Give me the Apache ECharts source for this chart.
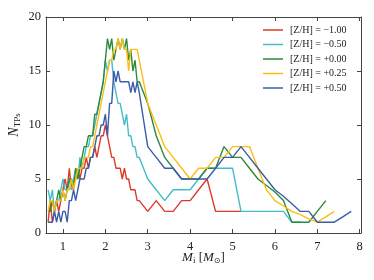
<!DOCTYPE html>
<html><head><meta charset="utf-8">
<script src="https://cdn.jsdelivr.net/npm/echarts@6/dist/echarts.min.js"></script>
<style>html,body{margin:0;padding:0;background:#fff}#c{width:374px;height:280px}</style>
</head><body><div id="c"></div>
<script>
// Initial masses (M_sun): fine grid then coarse grid
const massFine = [0.65,0.70,0.75,0.80,0.85,0.90,0.95,1.00,1.05,1.10,1.15,1.20,1.25,1.30,1.35,1.40,1.45,1.50,1.55,1.60,1.65,1.70,1.75,1.80,1.85,1.90,1.95,2.00,2.05,2.10,2.15,2.20,2.25,2.30,2.35,2.40,2.45,2.50,2.55,2.60,2.65,2.70,2.75,2.80];
const massCoarse = [3.0,3.2,3.4,3.6,3.8,4.0,4.2,4.4,4.6,4.8,5.0,5.2,5.4,5.6,5.8,6.0,6.2,6.4,6.6,6.8,7.0,7.2,7.4,7.6,7.8];

const seriesNames = ['[Z/H] = \u22121.00','[Z/H] = \u22120.50','[Z/H] = +0.00','[Z/H] = +0.25','[Z/H] = +0.50'];

const ntpM100 = [1,3,1,2,3,2,3,4,5,4, 6,4,5,5,6,5,6,6,7,6, 7,7,8,7,8,9,9,10,9,8, 7,7,6,6,6,5,6,5,5,4, 4,4,3,3,
  2,3,2,2,3,3,4,5,2,2,2,2,null,null,null,null,null,null,null,null,null,null,null,null,null];
const ntpM050 = [4,3,4,2,3,3,4,5,4,4, 5,4,5,6,5,7,6,7,8,8, 9,9,10,11,12,13,14,16,15,16, 16,14,13,12,12,11,10,11,9,9, 8,8,7,7,
  5,4,3,4,4,4,5,6,6,6,6,2,2,2,2,2,2,1,1,null,null,null,null,null,null];
const ntpP000 = [2,2,3,2,3,4,3,4,3,4, 5,5,4,6,5,6,7,8,8,9, 9,9,11,11,12,13,14,16,18,17, 18,16,17,18,17,18,17,18,16,17, 15,16,14,14,
  12,9,7,6,5,5,5,6,6,8,7,7,6,5,4.4,3.8,3,1,1,1,2,3,null,null,null];
const ntpP025 = [2,3,3,2,3,3,3,4,3,4, 4,5,4,5,6,6,6,7,7,7, 8,8,9,10,11,12,13,14,15,16, 16,17,17,18,17,18,17,17,15,17, 17,17,17,16,
  12,10,8,7,6,5,6,6,7,7,8,8,8,6,4,3,2.5,2,1.7,1.3,1,1.5,2,null,null];
const ntpP050 = [1,1,1,2,1,2,1,2,2,1, 3,3,4,3,4,5,5,5,6,6, 7,7,8,9,9,10,10,11,9,12, 12,15,14,15,14,14,14,14,14,13, 14,13,14,13,
  8,7,6,6,5,5,5,5,6,7,7,8,7,6,5,4,3.4,2.7,2,2,1,1,1,1.5,2];

const xTicks = [1,2,3,4,5,6,7,8];
const colors = ['#dc3a2a','#43bccb','#2a8a3c','#fdbd12','#3b5ca6'];

const masses = massFine.concat(massCoarse);
function pairs(vals){ const out=[]; vals.forEach((v,i)=>{ if(v!==null) out.push([masses[i], v]); }); return out; }
const allVals = [ntpM100, ntpM050, ntpP000, ntpP025, ntpP050];

const font = 'Liberation Serif';
const axisCol = '#444';
const chart = echarts.init(document.getElementById('c'), null, {renderer:'canvas'});
const xBase = {
  type:'value', min:0.6, max:8.03,
  axisLine:{show:true, onZero:false, lineStyle:{color:axisCol, width:1}},
  axisTick:{show:true, inside:true, length:4, customValues:xTicks, lineStyle:{color:axisCol}},
  splitLine:{show:false}
};
const yBase = {
  type:'value', min:0, max:20, interval:5,
  axisLine:{show:true, onZero:false, lineStyle:{color:axisCol, width:1}},
  axisTick:{show:true, inside:true, length:4, lineStyle:{color:axisCol}},
  splitLine:{show:false}
};
chart.setOption({
  animation:false,
  color: colors,
  grid:{left:46, right:13, top:17, bottom:47, containLabel:false, outerBoundsMode:'none'},
  legend:{
    orient:'vertical', left:258, top:19, itemWidth:20, itemHeight:1.5, itemGap:2.5,
    icon:'rect', textStyle:{fontFamily:font, fontSize:10, color:'#222', lineHeight:12, padding:[0,0,0,2]},
    data: seriesNames
  },
  xAxis:[
    Object.assign({}, xBase, {position:'bottom',
      axisLabel:{show:true, customValues:xTicks, margin:7, fontFamily:font, fontSize:12.5, color:'#222'},
      name:'{i|M}{s|i} [{i|M}{o|\u2299}]', nameLocation:'middle', nameGap:17, nameMoveOverlap:false,
      nameTextStyle:{fontFamily:font, fontSize:13, color:'#222',
        rich:{i:{fontFamily:font, fontStyle:'italic', fontSize:13, color:'#222'},
              s:{fontFamily:font, fontSize:9, color:'#222', padding:[6,0,0,0]},
              o:{fontFamily:'DejaVu Sans', fontSize:8, color:'#222', padding:[6,0,0,0]}}}
    }),
    Object.assign({}, xBase, {position:'top', axisLabel:{show:false}})
  ],
  yAxis:[
    Object.assign({}, yBase, {position:'left',
      axisLabel:{show:true, margin:5, fontFamily:font, fontSize:12.5, color:'#222'},
      name:'{i|N}{s|TPs}', nameLocation:'middle', nameGap:24, nameMoveOverlap:false,
      nameTextStyle:{fontFamily:font, fontSize:13, color:'#222',
        rich:{i:{fontFamily:font, fontStyle:'italic', fontSize:14, color:'#222'},
              s:{fontFamily:font, fontSize:9, color:'#222', padding:[6,0,0,0]}}}
    }),
    Object.assign({}, yBase, {position:'right', axisLabel:{show:false}})
  ],
  series: allVals.map((vals,k)=>({
    name: seriesNames[k], type:'line', data: pairs(vals),
    showSymbol:false, symbol:'none', connectNulls:true,
    lineStyle:{width:1.4, color:colors[k]}, itemStyle:{color:colors[k]}
  }))
});
</script></body></html>
